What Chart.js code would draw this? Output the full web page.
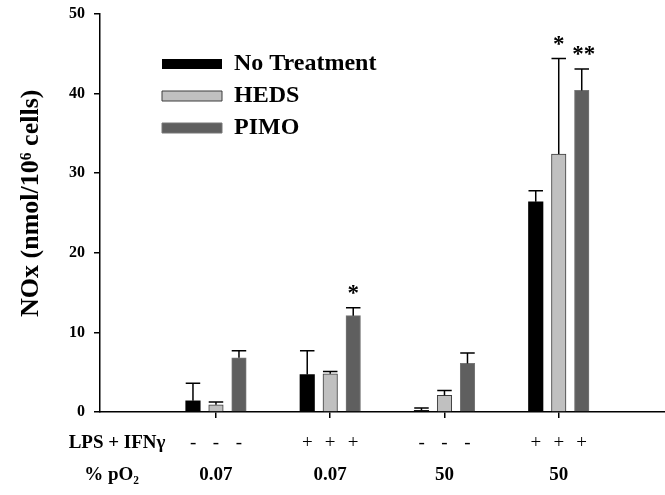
<!DOCTYPE html>
<html>
<head>
<meta charset="utf-8">
<script src="https://cdn.jsdelivr.net/npm/chart.js@4.4.1/dist/chart.umd.min.js"></script>
<style>
  html, body { margin: 0; padding: 0; background: #ffffff; }
  #wrap { width: 665px; height: 495px; }
</style>
</head>
<body>
<div id="wrap"><canvas id="c" width="665" height="495"></canvas></div>
<script>
// ---------------- data ----------------
const groups = [1, 2, 3, 4];
const pO2Labels = ['0.07', '0.07', '50', '50'];
const lpsSigns = ['-', '+', '-', '+'];
const lpsRowLabel = 'LPS + IFNγ';
const pO2RowLabel = '% pO₂';
const seriesNames = ['No Treatment', 'HEDS', 'PIMO'];
const noTreatment = [1.4, 4.7, 0.2, 26.4];
const heds = [0.9, 4.8, 2.1, 32.4];
const pimo = [6.8, 12.1, 6.1, 40.4];
const noTreatmentErr = [2.2, 3.0, 0.3, 1.4];
const hedsErr = [0.35, 0.3, 0.6, 12.0];
const pimoErr = [0.9, 1.0, 1.3, 2.7];
const noTreatmentSig = ['', '', '', ''];
const hedsSig = ['', '', '', '*'];
const pimoSig = ['', '*', '', '**'];
const yTicks = [0, 10, 20, 30, 40, 50];
const yTitle = 'NOx (nmol/10⁶ cells)';

// ---------------- layout / style constants ----------------
const SERIF = '"Liberation Serif", "Times New Roman", serif';
const X_MIN = -0.015, X_MAX = 4.93;
const SIGN_OFFSET = 0.2;          // bar spacing within a group, in axis units
const LPS_LABEL_POS = 0.134;
const PO2_LABEL_POS = 0.086;

const toPoints = (vals) => vals.map((v, i) => ({ x: groups[i], y: v }));

const errorBarPlugin = {
  id: 'errorBars',
  afterDatasetsDraw(chart) {
    const ctx = chart.ctx;
    const yScale = chart.scales.y;
    chart.data.datasets.forEach((ds, di) => {
      const meta = chart.getDatasetMeta(di);
      meta.data.forEach((bar, i) => {
        const v = ds.data[i].y;
        const e = ds.errors[i];
        const top = yScale.getPixelForValue(v + e);
        const half = bar.width / 2;
        ctx.save();
        ctx.strokeStyle = '#000';
        ctx.lineWidth = 1.5;
        ctx.beginPath();
        ctx.moveTo(bar.x, bar.y);
        ctx.lineTo(bar.x, top);
        ctx.moveTo(bar.x - half, top);
        ctx.lineTo(bar.x + half, top);
        ctx.stroke();
        const s = ds.sig[i];
        if (s) {
          ctx.fillStyle = '#000';
          ctx.font = 'bold 23px ' + SERIF;
          ctx.textAlign = 'center';
          ctx.textBaseline = 'alphabetic';
          ctx.fillText(s, bar.x + (s.length > 1 ? 2 : 0), top - 8);
        }
        ctx.restore();
      });
    });
  }
};

const legendPlacePlugin = {
  id: 'legendPlace',
  afterLayout(chart) {
    const lg = chart.legend;
    if (!lg) return;
    const w = lg.width, h = lg.height;
    lg.left = chart.chartArea.left + 54;
    lg.top = chart.chartArea.top + 30;
    lg.right = lg.left + w;
    lg.bottom = lg.top + h;
  }
};

new Chart(document.getElementById('c'), {
  type: 'bar',
  data: {
    datasets: [
      {
        label: seriesNames[0], data: toPoints(noTreatment), errors: noTreatmentErr, sig: noTreatmentSig,
        backgroundColor: '#000000', borderColor: '#000000', borderWidth: 0
      },
      {
        label: seriesNames[1], data: toPoints(heds), errors: hedsErr, sig: hedsSig,
        backgroundColor: '#c0c0c0', borderColor: '#3c3c3c', borderWidth: 1
      },
      {
        label: seriesNames[2], data: toPoints(pimo), errors: pimoErr, sig: pimoSig,
        backgroundColor: '#5f5f5f', borderColor: '#777777', borderWidth: 1
      }
    ]
  },
  options: {
    responsive: false,
    animation: false,
    devicePixelRatio: 1,
    barThickness: 23,
    maxBarThickness: 14.5,
    layout: { padding: { top: 14, right: 0, bottom: 0, left: 0 } },
    plugins: {
      tooltip: { enabled: false },
      legend: {
        position: 'chartArea',
        align: 'start',
        labels: {
          boxWidth: 60,
          boxHeight: 10,
          padding: 8,
          color: '#000',
          font: { family: SERIF, size: 24, weight: 'bold' }
        }
      }
    },
    scales: {
      y: {
        type: 'linear',
        min: 0, max: 50,
        afterBuildTicks: (s) => { s.ticks = yTicks.map(v => ({ value: v })); },
        afterFit: (s) => { s.width = 100; s.paddingTop = 0; s.paddingBottom = 0; },
        border: { display: true, color: '#000', width: 1.5 },
        grid: { drawOnChartArea: false, drawTicks: true, tickLength: 6, color: '#000', lineWidth: 1.5 },
        ticks: { padding: 9, color: '#000', font: { family: SERIF, size: 16, weight: 'bold' } },
        title: {
          display: true,
          text: '   ' + yTitle,
          color: '#000',
          padding: { top: 16, bottom: 0 },
          font: { family: SERIF, size: 26, weight: 'bold' }
        }
      },
      xs: {
        type: 'linear',
        position: 'bottom',
        weight: 0,
        offset: false,
        min: X_MIN, max: X_MAX,
        afterBuildTicks: (s) => {
          const t = [{ value: LPS_LABEL_POS }];
          groups.forEach(g => { t.push({ value: g - SIGN_OFFSET }, { value: g }, { value: g + SIGN_OFFSET }); });
          s.ticks = t;
        },
        afterFit: (s) => { s.height = 47; },
        border: { display: true, color: '#000', width: 1.5 },
        grid: {
          offset: false,
          drawOnChartArea: false, drawTicks: true, tickLength: 6, lineWidth: 1.5,
          color: (c) => (c.index > 0 && (c.index - 1) % 3 === 1) ? '#000' : 'rgba(0,0,0,0)'
        },
        ticks: {
          autoSkip: false, maxRotation: 0, minRotation: 0, padding: 14, color: '#000',
          callback: (v, i) => i === 0 ? lpsRowLabel : lpsSigns[Math.floor((i - 1) / 3)],
          font: (c) => c.index === 0
            ? { family: SERIF, size: 19, weight: 'bold' }
            : { family: SERIF, size: 19, weight: 'normal' }
        }
      },
      x: {
        type: 'linear',
        position: 'bottom',
        weight: 1,
        offset: false,
        min: X_MIN, max: X_MAX,
        afterBuildTicks: (s) => {
          s.ticks = [{ value: PO2_LABEL_POS }].concat(groups.map(g => ({ value: g })));
        },
        afterFit: (s) => { s.height = 36; },
        border: { display: false },
        grid: { display: false, drawTicks: false, offset: false },
        ticks: {
          autoSkip: false, maxRotation: 0, minRotation: 0, padding: 5, color: '#000',
          callback: (v, i) => i === 0 ? pO2RowLabel : pO2Labels[i - 1],
          font: { family: SERIF, size: 19, weight: 'bold' }
        }
      }
    }
  },
  plugins: [errorBarPlugin, legendPlacePlugin]
});
</script>
</body>
</html>
